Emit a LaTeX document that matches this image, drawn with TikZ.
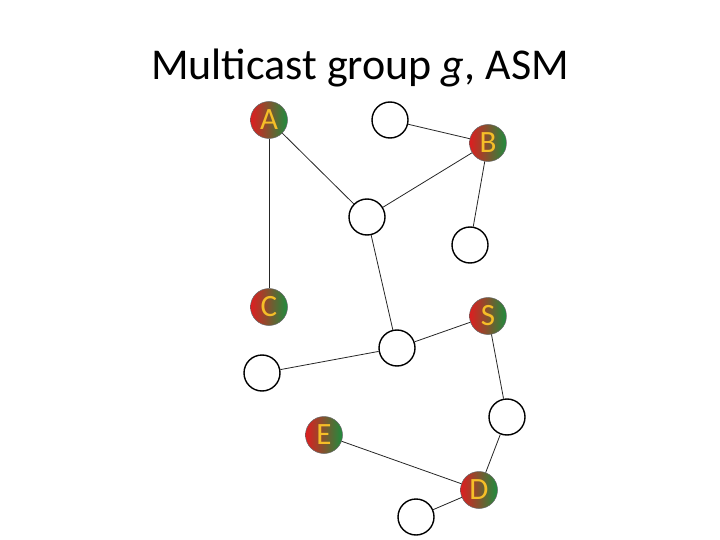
\documentclass[tikz,border=0pt]{standalone}
\usepackage{fontspec}
\setmainfont{Carlito}
\usetikzlibrary{positioning}
\definecolor{mred}{RGB}{222,30,32}
\definecolor{mgreen}{RGB}{30,140,62}
\definecolor{mgold}{RGB}{245,190,40}
\begin{document}
\begin{tikzpicture}[x=1pt,y=-1pt,
  r/.style={circle,draw=black,line width=1.4pt,fill=white,minimum size=36pt,inner sep=0pt},
  g/.style={circle,draw=black!60,line width=0.5pt,left color=mred,right color=mgreen,
    minimum size=37pt,inner sep=0pt,text=mgold,font=\fontsize{31}{31}\selectfont},
  e/.style={draw=black!85,line width=0.8pt}]
\useasboundingbox (0,0) rectangle (720,540);
\node[font=\fontsize{44}{44}\selectfont] (t) at (360,68) {Multicast group \textit{g}, ASM};
% members
\node[g] (A) at (269,120) {A};
\node[g] (B) at (488,143) {B};
\node[g] (C) at (269,307) {C};
\node[g] (S) at (488,316) {S};
\node[g] (E) at (324,435) {E};
\node[g] (D) at (479,490) {D};
% routers
\node[r] (r1) at (390,120) {};
\node[r] (r2) at (367,217) {};
\node[r] (r3) at (470,245) {};
\node[r] (r4) at (397,348) {};
\node[r] (r5) at (262,373) {};
\node[r] (r6) at (507,417) {};
\node[r] (r7) at (416,517) {};
\draw[e] (A)--(C);
\draw[e] (A)--(r2);
\draw[e] (r1)--(B);
\draw[e] (B)--(r2);
\draw[e] (B)--(r3);
\draw[e] (r2)--(r4);
\draw[e] (r4)--(S);
\draw[e] (r4)--(r5);
\draw[e] (S)--(r6);
\draw[e] (r6)--(D);
\draw[e] (E)--(D);
\draw[e] (D)--(r7);
\end{tikzpicture}
\end{document}
